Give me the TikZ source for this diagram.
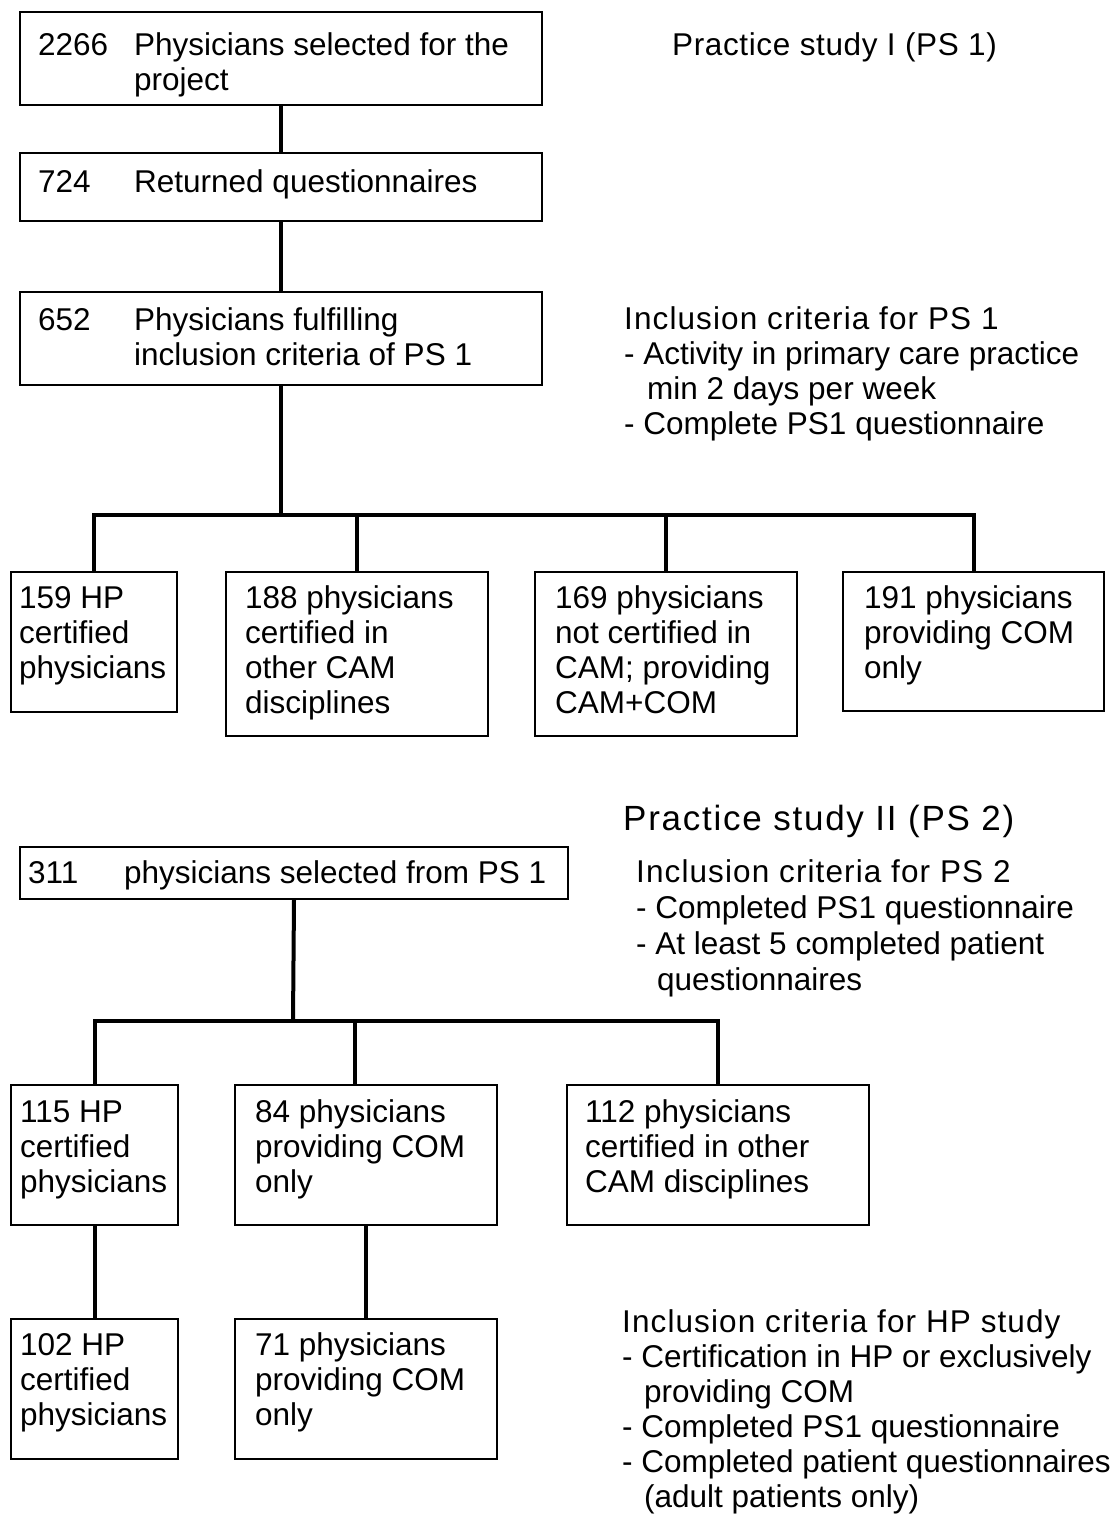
\documentclass[tikz,border=0pt]{standalone}
\usepackage{fontspec}
\setmainfont{Liberation Sans}
\newfontfamily\spacedA[LetterSpace=3.5]{Liberation Sans}
\newfontfamily\spacedB[LetterSpace=2]{Liberation Sans}
\newfontfamily\spacedC[LetterSpace=5]{Liberation Sans}
\newcommand{\bodyfont}{\fontsize{31.5}{35}\selectfont}
\newcommand{\flines}[1]{\begin{tabular}[t]{@{}l@{}}#1\end{tabular}}
\begin{document}
\begin{tikzpicture}[x=1pt,y=-1pt,
  box/.style={draw, line width=2pt, inner sep=0pt, anchor=north west},
  conn/.style={line width=4pt, line join=miter},
  txt/.style={anchor=base west, inner sep=0pt, font=\bodyfont},
  hdg/.style={anchor=base west, inner sep=0pt, font=\bodyfont\spacedA}]
\fill[white] (0,0) rectangle (1109,1515);
\useasboundingbox (0,0) rectangle (1109,1515);

% ---------- Practice study I ----------
\node[box, minimum width=522pt, minimum height=93pt] (b1) at (19,11) {};
\node[box, minimum width=522pt, minimum height=68pt] (b2) at (19,152) {};
\node[box, minimum width=522pt, minimum height=93pt] (b3) at (19,291) {};

\node[txt] (t1n) at (38,55) {2266};
\node[txt] (t1t) at (134,55) {\flines{Physicians selected for the\\project}};
\node[txt] (t2n) at (38,192) {724};
\node[txt] (t2t) at (134,192) {Returned questionnaires};
\node[txt] (t3n) at (38,330) {652};
\node[txt] (t3t) at (134,330) {\flines{Physicians fulfilling\\inclusion criteria of PS 1}};

\node[box, minimum width=166pt, minimum height=140pt] (a1) at (10,571) {};
\node[box, minimum width=262pt, minimum height=164pt] (a2) at (225,571) {};
\node[box, minimum width=262pt, minimum height=164pt] (a3) at (534,571) {};
\node[box, minimum width=261pt, minimum height=139pt] (a4) at (842,571) {};

\node[txt] (ta1) at (19,608) {\flines{159 HP\\certified\\physicians}};
\node[txt] (ta2) at (245,608) {\flines{188 physicians\\certified in\\other CAM\\disciplines}};
\node[txt] (ta3) at (555,608) {\flines{169 physicians\\not certified in\\CAM; providing\\CAM+COM}};
\node[txt] (ta4) at (864,608) {\flines{191 physicians\\providing COM\\only}};

\coordinate (j1) at (281,515);
\draw[conn] (b1.south) -- (b2.north);
\draw[conn] (b2.south) -- (b3.north);
\draw[conn] (b3.south) -- (j1);
\draw[conn] (a1.north) -- (a1.north |- j1) -- (a4.north |- j1) -- (a4.north);
\draw[conn] (a2.north |- j1) -- (a2.north);
\draw[conn] (a3.north |- j1) -- (a3.north);

\node[anchor=base west, inner sep=0pt, font=\bodyfont\spacedB] (h1) at (672,55) {Practice study I (PS 1)};
\node[hdg] (i1) at (624,329) {Inclusion criteria for PS 1};
\node[txt] (i1a) at (624,364) {- Activity in primary care practice};
\node[txt] (i1b) at (647,399) {min 2 days per week};
\node[txt] (i1c) at (624,434) {- Complete PS1 questionnaire};

% ---------- Practice study II ----------
\node[anchor=base west, inner sep=0pt, font=\fontsize{35}{40}\selectfont\spacedC] (h2) at (623,830) {Practice study II (PS 2)};
\node[hdg] (i2) at (636,882) {Inclusion criteria for PS 2};
\node[txt] (i2a) at (636,918) {- Completed PS1 questionnaire};
\node[txt] (i2b) at (636,954) {- At least 5 completed patient};
\node[txt] (i2c) at (657,990) {questionnaires};

\node[box, minimum width=548pt, minimum height=52pt] (c0) at (19,846) {};
\node[txt] (t0n) at (28,883) {311};
\node[txt] (t0t) at (124,883) {physicians selected from PS 1};

\node[box, minimum width=167pt, minimum height=140pt] (c1) at (10,1084) {};
\node[box, minimum width=262pt, minimum height=140pt] (c2) at (234,1084) {};
\node[box, minimum width=302pt, minimum height=140pt] (c3) at (566,1084) {};
\node[txt] (tc1) at (20,1122) {\flines{115 HP\\certified\\physicians}};
\node[txt] (tc2) at (255,1122) {\flines{84 physicians\\providing COM\\only}};
\node[txt] (tc3) at (585,1122) {\flines{112 physicians\\certified in other\\CAM disciplines}};

\node[box, minimum width=167pt, minimum height=140pt] (d1) at (10,1318) {};
\node[box, minimum width=262pt, minimum height=140pt] (d2) at (234,1318) {};
\node[txt] (td1) at (20,1355) {\flines{102 HP\\certified\\physicians}};
\node[txt] (td2) at (255,1355) {\flines{71 physicians\\providing COM\\only}};

\coordinate (j2) at (293,1021);
\coordinate (k2) at (355,1021);
\draw[conn] (c0.south) -- (j2);
\draw[conn] (c1.north) -- (c1.north |- j2) -- (c3.north |- j2) -- (c3.north);
\draw[conn] (k2) -- (k2 |- c2.north);
\draw[conn] (c1.south) -- (d1.north);
\draw[conn] (c2.south) -- (d2.north);

\node[hdg] (i3) at (622,1332) {Inclusion criteria for HP study};
\node[txt] (i3a) at (622,1367) {- Certification in HP or exclusively};
\node[txt] (i3b) at (644,1402) {providing COM};
\node[txt] (i3c) at (622,1437) {- Completed PS1 questionnaire};
\node[txt] (i3d) at (622,1472) {- Completed patient questionnaires};
\node[txt] (i3e) at (644,1507) {(adult patients only)};
\end{tikzpicture}
\end{document}
